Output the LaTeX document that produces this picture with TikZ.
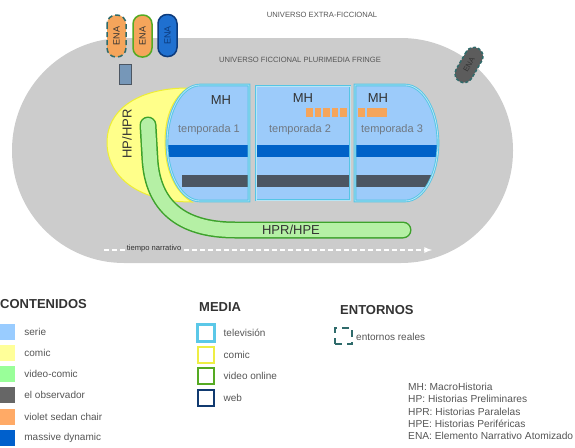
\documentclass[tikz,border=0pt]{standalone}
\usepackage{fontspec}
\setmainfont{Liberation Sans}
\usetikzlibrary{positioning}
\definecolor{fondo}{HTML}{CCCCCC}
\definecolor{serie}{HTML}{9CCBFA}
\definecolor{mhborde}{HTML}{55C5E5}
\definecolor{mhclaro}{HTML}{B8E6F5}
\definecolor{azul}{HTML}{0062C8}
\definecolor{gris}{HTML}{4C5662}
\definecolor{naranja}{HTML}{F5A55B}
\definecolor{tubo}{HTML}{B5F0A5}
\definecolor{tuboborde}{HTML}{3DA22B}
\definecolor{amarillo}{HTML}{FFFF8A}
\definecolor{amarilloborde}{HTML}{EEEE33}
\definecolor{entorno}{HTML}{2F6B6B}
\definecolor{enaazul}{HTML}{1F70D0}
\definecolor{enaazulborde}{HTML}{0C3B7D}
\definecolor{texto}{HTML}{333333}
\definecolor{textoclaro}{HTML}{555555}
\definecolor{legserie}{HTML}{99CCFF}
\definecolor{legcomic}{HTML}{FFFF99}
\definecolor{legvideo}{HTML}{99FF99}
\definecolor{legobs}{HTML}{666666}
\definecolor{legviolet}{HTML}{FFAA66}
\definecolor{legmassive}{HTML}{0060CC}
\definecolor{medtv}{HTML}{5BC8E8}
\definecolor{medcomic}{HTML}{EEEE44}
\definecolor{medvideo}{HTML}{55AA22}
\definecolor{medweb}{HTML}{113A70}
\tikzset{
  rotulo/.style={font=\fontsize{7.6}{8}\selectfont, text=textoclaro, inner sep=0pt},
  ena/.style={rounded corners=9pt, minimum width=42pt, minimum height=19pt, inner sep=0pt,
    line width=1.5pt, font=\fontsize{9}{9}\selectfont, text=texto},
  mh/.style={draw=mhborde, double=mhclaro, double distance=0.8pt, line width=0.9pt},
  mhtxt/.style={font=\fontsize{13}{13}\selectfont, text=texto},
  temptxt/.style={font=\fontsize{11}{11}\selectfont, text=gris!80},
  cabecera/.style={font=\fontsize{13}{13}\selectfont\bfseries, text=texto, inner sep=0pt},
  leyenda/.style={font=\fontsize{10}{10}\selectfont, text=textoclaro, inner sep=0pt},
  muestra/.style={minimum width=15pt, minimum height=16pt, inner sep=0pt},
  mediabox/.style={minimum size=16pt, inner sep=0pt, line width=2pt}
}
\begin{document}
\begin{tikzpicture}[x=1pt, y=-1pt]
\useasboundingbox (0,0) rectangle (575,447);
\fill[fondo, rounded corners=112pt] (12,38) rectangle (513,263);
\node[rotulo] (extra) at (322,15) {UNIVERSO EXTRA-FICCIONAL};
\node[rotulo] (fringe) at (300,60) {UNIVERSO FICCIONAL PLURIMEDIA FRINGE};

\node[ena, rotate=90, draw=entorno, fill=naranja, dash pattern=on 5pt off 3pt] (ena1) at (116.5,36) {ENA};
\node[ena, rotate=90, draw=medvideo, fill=naranja] (ena2) at (142.5,36) {ENA};
\node[ena, rotate=90, draw=enaazulborde, fill=enaazul, text=enaazulborde] (ena3) at (167.5,35.5) {ENA};
\node[draw=gris, fill=gris!45!legserie, minimum width=12pt, minimum height=20pt, inner sep=0pt, line width=1pt] (web) at (125,74) {};
\node[ena, rotate=60, draw=entorno, fill=legobs!90!black, dash pattern=on 3pt off 2pt,
  minimum width=38pt, minimum height=18pt, font=\fontsize{7.5}{7.5}\selectfont] (ena4) at (469,65) {ENA};

\filldraw[fill=amarillo, draw=amarilloborde, line width=1pt]
  (188,88) .. controls (135,88) and (107,112) .. (107,142)
  .. controls (107,178) and (140,202) .. (192,202)
  .. controls (172,190) and (165,165) .. (165,142)
  .. controls (165,118) and (172,98) .. (188,88) -- cycle;
\node[font=\fontsize{13}{13}\selectfont, text=texto, rotate=90] (hp) at (127,134) {HP/HPR};

\begin{scope}
\clip (249,85) -- (200,85) arc[start angle=270, end angle=90, x radius=33, y radius=58] -- (249,201) -- cycle;
\fill[serie] (160,80) rectangle (255,205);
\fill[azul] (160,145) rectangle (255,157);
\fill[gris] (182,175) rectangle (255,187);
\end{scope}
\draw[mh] (249,85) -- (200,85) arc[start angle=270, end angle=90, x radius=33, y radius=58] -- (249,201) -- cycle;
\begin{scope}
\clip (256,86) rectangle (350,200);
\fill[serie] (256,86) rectangle (350,200);
\fill[azul] (256,145) rectangle (350,157);
\fill[gris] (256,175) rectangle (350,187);
\end{scope}
\draw[mh] (256,86) rectangle (350,200);
\begin{scope}
\clip (355,85) -- (405,85) arc[start angle=270, end angle=450, x radius=33, y radius=58] -- (355,201) -- cycle;
\fill[serie] (350,80) rectangle (445,205);
\fill[azul] (350,145) rectangle (445,157);
\fill[gris] (350,175) rectangle (445,187);
\end{scope}
\draw[mh] (355,85) -- (405,85) arc[start angle=270, end angle=450, x radius=33, y radius=58] -- (355,201) -- cycle;

\foreach \x in {306,314.5,323,331.5,340,358,367,374,380.5}
  \fill[naranja] (\x,108) rectangle ++(6.5,8.5);

\node[mhtxt] (mh1) at (221,100) {MH};
\node[mhtxt] (mh2) at (303,98) {MH};
\node[mhtxt] (mh3) at (378,98) {MH};
\node[temptxt] (temp1) at (209,130) {temporada 1};
\node[temptxt] (temp2) at (300,130) {temporada 2};
\node[temptxt] (temp3) at (392,130) {temporada 3};

\draw[tuboborde, line width=17pt, line cap=round, line join=round]
  (148,125) -- (150,160) .. controls (153,205) and (180,230) .. (235,230) -- (403,230);
\draw[tubo, line width=14pt, line cap=round, line join=round]
  (148,125) -- (150,160) .. controls (153,205) and (180,230) .. (235,230) -- (403,230);
\node[font=\fontsize{13}{13}\selectfont, text=texto] (hpe) at (291,230) {HPR/HPE};

\coordinate (t0) at (104,250);
\coordinate (t1) at (432,250);
\draw[white, line width=1.6pt, dash pattern=on 5pt off 3pt, -latex] (t0) -- (t1);
\node[fill=fondo, inner sep=1pt, font=\fontsize{7.6}{8}\selectfont, text=texto] (tn) at (154,249) {tiempo narrativo};

\node[cabecera, anchor=west] (cont) at (0,304) {CONTENIDOS};
\foreach \col/\txt [count=\i] in {legserie/serie, legcomic/comic, legvideo/video-comic,
    legobs/el observador, legviolet/violet sedan chair, legmassive/massive dynamic} {
  \node[muestra, fill=\col] (c\i) at (7.5,{331.5+21.3*(\i-1)}) {};
  \node[leyenda, right=9pt of c\i] (ct\i) {\txt};
}

\node[cabecera, anchor=west] (media) at (199,307) {MEDIA};
\foreach \col/\txt [count=\i] in {medtv/televisión, medcomic/comic, medvideo/video online, medweb/web} {
  \node[mediabox, draw=\col] (m\i) at (205.5,{333+21.6*(\i-1)}) {};
  \node[leyenda, right=9pt of m\i] (mt\i) {\txt};
}
\node[mediabox, draw=medtv, line width=3pt, minimum size=17pt] at (m1) {};

\node[cabecera, anchor=west] (ent) at (340,310) {ENTORNOS};
\node[draw=entorno, line width=1.6pt, dash pattern=on 7pt off 5pt, minimum width=17pt,
  minimum height=16pt, inner sep=0pt] (er) at (343.5,336) {};
\node[leyenda, anchor=west] (ert) at (356,337) {entornos reales};

\node[leyenda, anchor=north west, align=left, font=\fontsize{10.2}{12.3}\selectfont] (abrev) at (408,383)
  {MH: MacroHistoria\\HP: Historias Preliminares\\HPR: Historias Paralelas\\HPE: Historias Periféricas\\ENA: Elemento Narrativo Atomizado};
\end{tikzpicture}
\end{document}
